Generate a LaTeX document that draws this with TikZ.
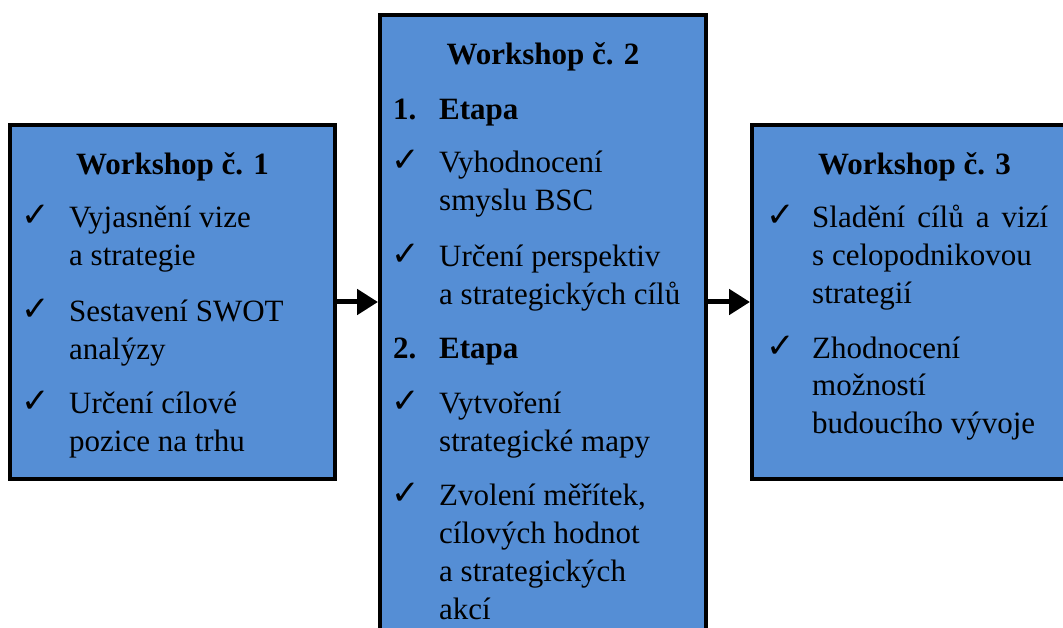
\documentclass[tikz,border=0pt]{standalone}
\usepackage{fontspec}
\setmainfont{Liberation Serif}
\newfontfamily\checkfont{DejaVu Sans}
\usetikzlibrary{arrows.meta}
\definecolor{boxblue}{RGB}{85,142,213}
\newcommand{\bodyfont}{\fontsize{31}{38}\selectfont}
\newcommand{\lines}[1]{\begin{tabular}[t]{@{}l@{}}#1\end{tabular}}
\tikzset{
  wbox/.style={draw=black, line width=4pt, fill=boxblue, rectangle, inner sep=0pt},
  wtitle/.style={anchor=base, font=\bodyfont\bfseries, inner sep=0pt},
  etapa/.style={anchor=base west, font=\bodyfont\bfseries, inner sep=0pt},
  chk/.style={anchor=base west, font=\checkfont\fontsize{34}{34}\selectfont, inner sep=0pt},
  itemtext/.style={anchor=base west, font=\bodyfont, inner sep=0pt},
  flow/.style={line width=5pt, -{Triangle[length=21pt,width=25pt]}},
}
\begin{document}
\begin{tikzpicture}[x=1pt,y=-1pt]
\useasboundingbox (0,0) rectangle (1063,628);
\clip (0,0) rectangle (1063,628);

% the three workshop boxes
\node[wbox, minimum width=325pt, minimum height=354pt] (b1) at (172.5,302) {};
\node[wbox, minimum width=326pt, minimum height=635pt] (b2) at (543,332.5) {};
\node[wbox, minimum width=325pt, minimum height=354pt] (b3) at (914.5,302) {};

% flow between workshops
\draw[flow] (b1.east) -- (b2.west |- b1.east);
\draw[flow] (b2.east |- b3.west) -- (b3.west);

% Workshop 1
\node[wtitle] (t1) at (172.5,175) {Workshop č. 1};
\node[chk] (c11) at (21,227) {✓};
\node[itemtext] (i11) at (69,228) {\lines{Vyjasnění vize\\a strategie}};
\node[chk] (c12) at (21,321) {✓};
\node[itemtext] (i12) at (69,322) {\lines{Sestavení SWOT\\analýzy}};
\node[chk] (c13) at (21,412) {✓};
\node[itemtext] (i13) at (69,413) {\lines{Určení cílové\\pozice na trhu}};

% Workshop 2
\node[wtitle] (t2) at (543,65) {Workshop č. 2};
\node[etapa] (n1) at (393,120) {1.};
\node[etapa] (e1) at (439,120) {Etapa};
\node[chk] (c21) at (391,172) {✓};
\node[itemtext] (i21) at (439,173) {\lines{Vyhodnocení\\smyslu BSC}};
\node[chk] (c22) at (391,266) {✓};
\node[itemtext] (i22) at (439,267) {\lines{Určení perspektiv\\a strategických cílů}};
\node[etapa] (n2) at (393,359) {2.};
\node[etapa] (e2) at (439,359) {Etapa};
\node[chk] (c23) at (391,412) {✓};
\node[itemtext] (i23) at (439,413) {\lines{Vytvoření\\strategické mapy}};
\node[chk] (c24) at (391,504) {✓};
\node[itemtext] (i24) at (439,505) {\lines{Zvolení měřítek,\\cílových hodnot\\a strategických\\akcí}};

% Workshop 3
\node[wtitle] (t3) at (914.5,175) {Workshop č. 3};
\node[chk] (c31) at (766,227) {✓};
\node[itemtext] (i31) at (812,228) {\lines{\makebox[236pt][s]{Sladění cílů a vizí}\\s celopodnikovou\\strategií}};
\node[chk] (c32) at (766,357) {✓};
\node[itemtext] (i32) at (812,358) {\lines{Zhodnocení\\možností\\budoucího vývoje}};
\end{tikzpicture}
\end{document}
